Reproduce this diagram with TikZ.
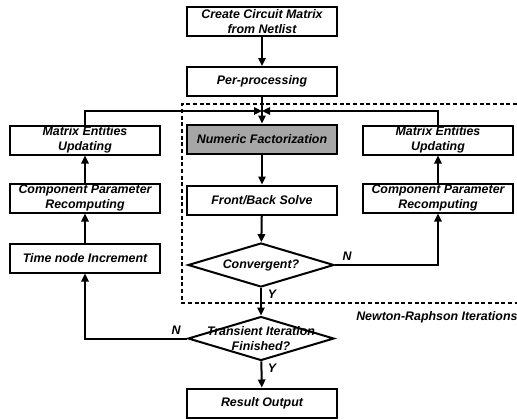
\documentclass[tikz,border=0pt]{standalone}
\usepackage{fontspec}
\setmainfont{Liberation Sans}
\usetikzlibrary{arrows.meta,shapes.geometric}

\definecolor{factgray}{RGB}{166,166,166}

\tikzset{
  txt/.style={font=\fontsize{9.3pt}{11pt}\selectfont\bfseries\itshape},
  block/.style={txt, draw, line width=1.5pt, minimum width=112.5pt, minimum height=21.75pt, inner sep=0pt, align=center},
  decision/.style={draw, diamond, line width=1.5pt, minimum width=109.5pt, minimum height=33pt, inner sep=0pt},
  flow/.style={line width=1.5pt, -{Triangle[length=6pt,width=5.5pt]}},
  nrbox/.style={line width=1.5pt, dash pattern=on 3pt off 2pt}
}

\begin{document}
\begin{tikzpicture}[x=0.75pt,y=0.75pt,yscale=-1,xscale=1]
\useasboundingbox (0,0) rectangle (517,419);

%Shape: Newton-Raphson frame
\draw [nrbox] (517,104) -- (182,104) -- (182,303) -- (517,303) ;

% main column
\node [block] (create) at (262,21.5) {Create Circuit Matrix\\from Netlist};
\node [block] (preproc) at (262,81.5) {Per-processing};
\node [block, fill=factgray] (numfact) at (262,139) {Numeric Factorization};
\node [block] (solve) at (262,200) {Front/Back Solve};
\node [decision, label={[txt, align=center]center:Convergent?}] (conv) at (261,265) {};
\node [decision, label={[txt, align=center]center:Transient Iteration\\Finished?}] (trans) at (261,338.5) {};
\node [block] (result) at (262,403) {Result Output};

% left column
\node [block] (lupdate) at (85,140) {Matrix Entities\\Updating};
\node [block] (lrecomp) at (85,198) {Component Parameter\\Recomputing};
\node [block] (tstep) at (85,258) {Time node Increment};

% right column
\node [block] (rupdate) at (438,140) {Matrix Entities\\Updating};
\node [block] (rrecomp) at (438,198) {Component Parameter\\Recomputing};

\coordinate (merge) at (262,111);

% Text Node
\node [txt, anchor=west, inner sep=0pt] (nrlabel) at (356,317) {Newton-Raphson Iterations};
\node [txt] (convN) at (347,256) {N};
\node [txt] (convY) at (272,294) {Y};
\node [txt] (transN) at (176,330) {N};
\node [txt] (transY) at (272,368) {Y};

%Straight Lines
\draw [flow] (create) -- (preproc);
\draw [flow] (preproc) -- (numfact);
\draw [flow] (numfact) -- (solve);
\draw [flow] (solve) -- (conv);
\draw [flow] (conv) -- (trans);
\draw [flow] (trans) -- (result);
\draw [flow] (conv.east) -| (rrecomp.south);
\draw [flow] (rrecomp) -- (rupdate);
\draw [flow] (rupdate.north) |- (merge);
\draw [flow] (trans.west) -| (tstep.south);
\draw [flow] (tstep) -- (lrecomp);
\draw [flow] (lrecomp) -- (lupdate);
\draw [flow] (lupdate.north) |- (merge);

\end{tikzpicture}
\end{document}
